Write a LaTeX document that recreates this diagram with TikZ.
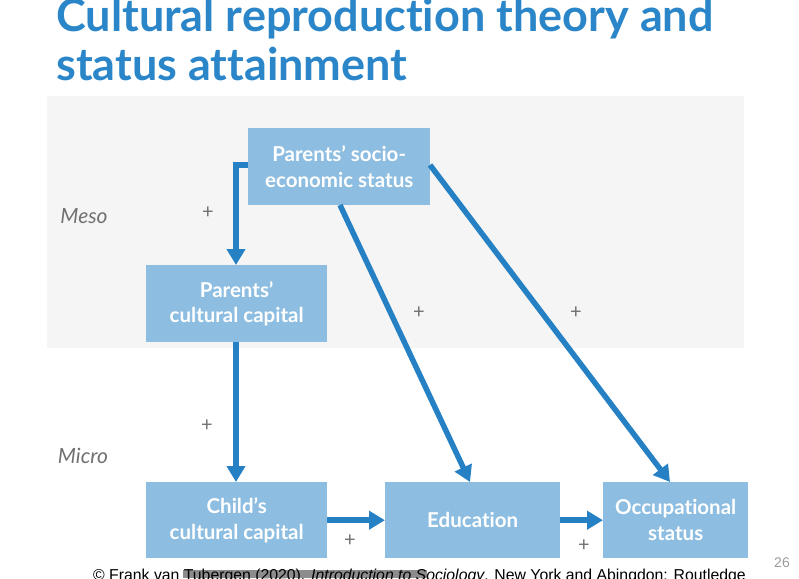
\documentclass[tikz,border=0pt]{standalone}
\usepackage{fontspec}
\setmainfont{Lato}[Ligatures=NoCommon,RawFeature={-dlig;-liga}]
\newfontfamily\arialf{Liberation Sans}
\usetikzlibrary{arrows.meta}
\definecolor{ttl}{HTML}{2A86C8}
\definecolor{boxc}{HTML}{8DBDE0}
\definecolor{arr}{HTML}{2680C4}
\definecolor{bgg}{HTML}{F5F5F5}
\definecolor{lbl}{HTML}{707070}
\tikzset{
  box/.style={fill=boxc,text=white,font=\bfseries\fontsize{20.5}{25.5}\selectfont,align=center,inner sep=0pt,anchor=north west},
  conn/.style={draw=arr,line width=5.5pt,-{Triangle[length=16pt,width=18pt]}},
  pl/.style={text=lbl,font=\fontsize{20}{20}\selectfont},
  lev/.style={text=lbl,font=\itshape\fontsize{21}{21}\selectfont}
}
\begin{document}
\begin{tikzpicture}[x=1pt,y=-1pt]
\useasboundingbox (0,0) rectangle (799,578);
\fill[bgg] (47,96) rectangle (744,348);
\node[anchor=base west,text=ttl,font=\bfseries\fontsize{45}{45}\selectfont,inner sep=0pt] (t1) at (56,31) {Cultural reproduction theory and};
\node[anchor=base west,text=ttl,font=\bfseries\fontsize{45}{45}\selectfont,inner sep=0pt] (t2) at (56,80) {status attainment};
\node[box,minimum width=182pt,minimum height=77pt] (ses) at (248,128) {Parents’ socio-\\economic status};
\node[box,minimum width=181pt,minimum height=77pt] (pcc) at (146,265) {Parents’\\cultural capital};
\node[box,minimum width=181pt,minimum height=76pt] (ccc) at (146,482) {Child’s\\cultural capital};
\node[box,minimum width=175pt,minimum height=76pt] (edu) at (385,482) {Education};
\node[box,minimum width=145pt,minimum height=76pt] (occ) at (603,482) {Occupational\\status};
\draw[conn] (ses.west |- 0,165) -- (236,165) -- (236,265);
\draw[conn] (236,342) -- (236,482);
\draw[conn] (340,205) -- (470,482);
\draw[conn] (430,165) -- (670,482);
\draw[conn] (ccc.east) -- (edu.west);
\draw[conn] (edu.east) -- (occ.west);
\node[pl] (p1) at (208,213) {+};
\node[pl] (p2) at (419,313) {+};
\node[pl] (p3) at (576,313) {+};
\node[pl] (p4) at (207,426) {+};
\node[pl] (p5) at (350,541) {+};
\node[pl] (p6) at (584,546) {+};
\node[lev] (meso) at (84,216) {Meso};
\node[lev] (micro) at (83,456) {Micro};
\node[text=lbl!70,font=\arialf\fontsize{14}{14}\selectfont] (pg) at (782,563) {26};
\fill[gray!90] (183,570) rectangle (427,578);
\node[anchor=base west,inner sep=0pt,font=\arialf\fontsize{15.8}{16}\selectfont] (foot) at (93,580.5) {© Frank van Tubergen (2020). \textit{Introduction to Sociology}. New York and Abingdon: Routledge};
\end{tikzpicture}
\end{document}
